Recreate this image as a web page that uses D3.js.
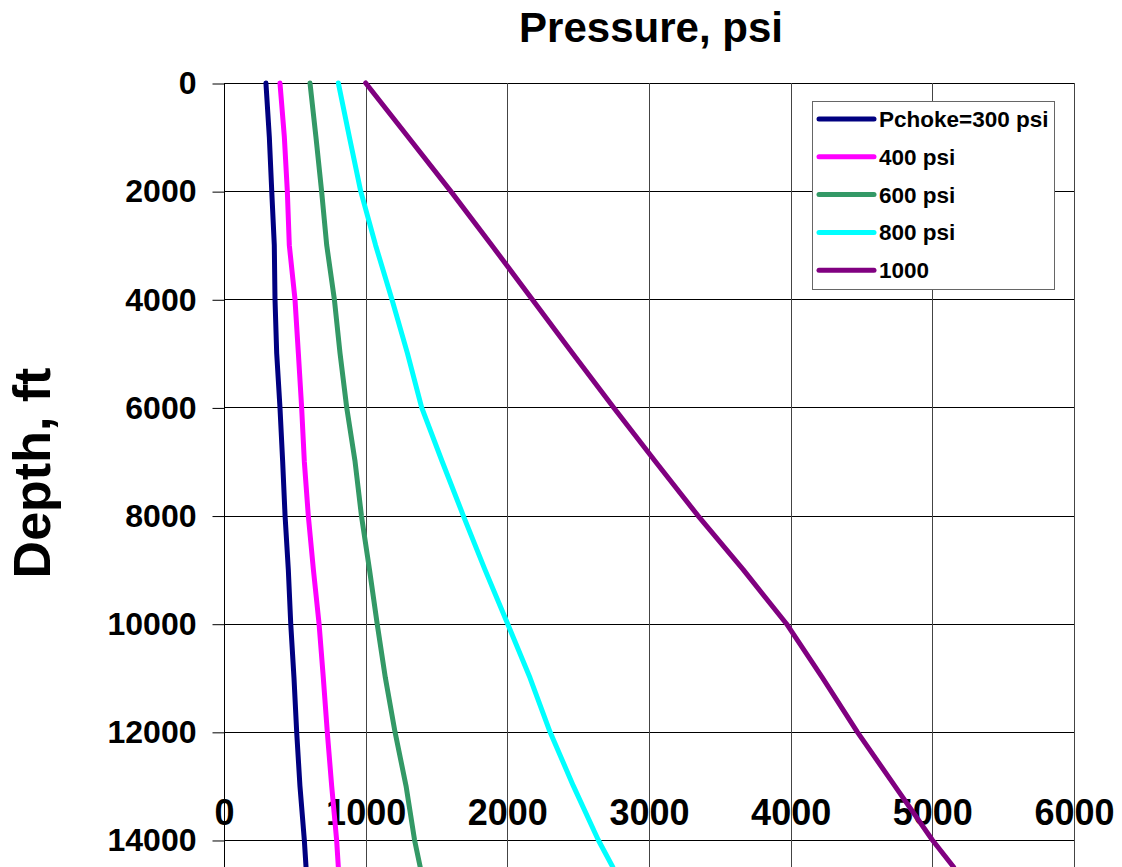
<!DOCTYPE html>
<html>
<head>
<meta charset="utf-8">
<script src="https://cdn.jsdelivr.net/npm/d3@7"></script>
<style>
  body { margin: 0; background: #fff; }
  svg { font-family: 'Liberation Sans', Arial, sans-serif; font-weight: bold; }
</style>
</head>
<body>
<svg></svg>
<script>
// depth, ft
let depth = [0, 1000, 2000, 3000, 4000, 5000, 6000, 7000, 8000, 9000, 10000, 11000, 12000, 13000, 14000, 14500]

// pressure, psi for each choke pressure
let p300  = [296, 320, 337, 355, 360, 372, 395, 414, 431, 454, 471, 494, 513, 536, 567, 579]
let p400  = [395, 426, 447, 461, 501, 525, 548, 567, 595, 631, 671, 701, 729, 760, 795, 807]
let p600  = [607, 649, 689, 725, 779, 819, 866, 925, 970, 1027, 1081, 1139, 1207, 1285, 1345, 1385]
let p800  = [807, 885, 965, 1070, 1185, 1295, 1395, 1540, 1689, 1842, 2002, 2160, 2301, 2466, 2642, 2744]
let p1000 = [1000, 1300, 1600, 1890, 2175, 2460, 2750, 3045, 3345, 3665, 3970, 4225, 4470, 4735, 5000, 5150]

let seriesNames = ['Pchoke=300 psi', '400 psi', '600 psi', '800 psi', '1000']
let seriesValues = [p300, p400, p600, p800, p1000]
let colors = ['#000080', '#FF00FF', '#339966', '#00FFFF', '#800080']

let xTicks = [0, 1000, 2000, 3000, 4000, 5000, 6000]
let yTicks = [0, 2000, 4000, 6000, 8000, 10000, 12000, 14000]

let width = 1122
let height = 867

let plotLeft = 224
let plotRight = 1074
let plotTop = 83

let svg = d3.select('svg')
  .attr('width', width)
  .attr('height', height)

let xScale = d3.scaleLinear().domain([0, 6000]).range([plotLeft, plotRight])
let yScale = d3.scaleLinear().domain([0, 16000]).range([plotTop, plotTop + 16 * 54.07])

// grid
svg.append('g')
  .selectAll('line')
  .data(yTicks)
  .enter()
  .append('line')
  .attr('x1', plotLeft)
  .attr('x2', plotRight)
  .attr('y1', (d) => Math.round(yScale(d)) + 0.5)
  .attr('y2', (d) => Math.round(yScale(d)) + 0.5)
  .attr('stroke', '#000')
  .attr('stroke-width', 1)

svg.append('g')
  .selectAll('line')
  .data(xTicks)
  .enter()
  .append('line')
  .attr('x1', (d) => Math.round(xScale(d)) + 0.5)
  .attr('x2', (d) => Math.round(xScale(d)) + 0.5)
  .attr('y1', plotTop)
  .attr('y2', height)
  .attr('stroke', (d) => d == 0 ? '#000' : '#444')
  .attr('stroke-width', 1)

// y axis
let yAxis = d3.axisLeft(yScale)
  .tickValues(yTicks)
  .tickSize(12)
  .tickPadding(16)
  .tickFormat(d3.format('d'))

let yG = svg.append('g')
  .attr('transform', 'translate(' + (plotLeft + 0.5) + ',0.5)')
  .call(yAxis)
yG.select('.domain').remove()
yG.selectAll('text')
  .attr('font-size', 32)
  .attr('font-family', "'Liberation Sans', Arial, sans-serif")
  .attr('font-weight', 'bold')
  .attr('fill', '#000')

// x tick labels (sit inside the plot above 14000 ft)
let xAxis = d3.axisBottom(xScale)
  .tickValues(xTicks)
  .tickSize(0)
  .tickPadding(0)
  .tickFormat(d3.format('d'))

let xG = svg.append('g')
  .attr('transform', 'translate(0,799)')
  .call(xAxis)
xG.select('.domain').remove()
xG.selectAll('text')
  .attr('font-size', 36)
  .attr('font-family', "'Liberation Sans', Arial, sans-serif")
  .attr('font-weight', 'bold')
  .attr('fill', '#000')

// lines
let line = d3.line()
  .x((d) => xScale(d[0]))
  .y((d) => yScale(d[1]))

svg.append('g')
  .selectAll('path')
  .data(seriesValues)
  .enter()
  .append('path')
  .attr('d', (vals) => line(vals.map((v, i) => [v, depth[i]])))
  .attr('fill', 'none')
  .attr('stroke', (d, i) => colors[i])
  .attr('stroke-width', 5)
  .attr('stroke-linejoin', 'round')
  .attr('stroke-linecap', 'round')

// legend
let legend = svg.append('g').attr('id', 'legend')
legend.append('rect')
  .attr('x', 812.5)
  .attr('y', 101.5)
  .attr('width', 242)
  .attr('height', 188)
  .attr('fill', '#fff')
  .attr('stroke', '#666')
  .attr('stroke-width', 1)

let rows = legend.selectAll('g.row')
  .data(seriesNames)
  .enter()
  .append('g')
  .attr('class', 'row')
  .attr('transform', (d, i) => 'translate(0,' + (119 + i * 37.8) + ')')

rows.append('line')
  .attr('x1', 819)
  .attr('x2', 874)
  .attr('stroke', (d, i) => colors[i])
  .attr('stroke-width', 5)
  .attr('stroke-linecap', 'round')

rows.append('text')
  .attr('x', 879)
  .attr('y', 8)
  .attr('font-size', 22.5)
  .text((d) => d)

// titles
svg.append('text')
  .attr('x', 651)
  .attr('y', 42)
  .attr('text-anchor', 'middle')
  .attr('font-size', 42)
  .text('Pressure, psi')

svg.append('text')
  .attr('transform', 'translate(50,473) rotate(-90)')
  .attr('text-anchor', 'middle')
  .attr('font-size', 52)
  .text('Depth, ft')
</script>
</body>
</html>
